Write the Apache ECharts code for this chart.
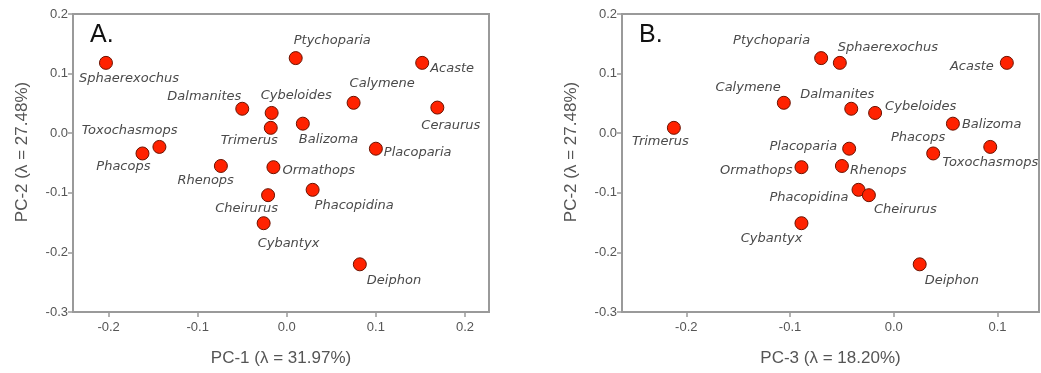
<!DOCTYPE html>
<html>
<head>
<meta charset="utf-8">
<script src="https://cdn.jsdelivr.net/npm/echarts@6/dist/echarts.min.js"></script>
<style>
html,body{margin:0;padding:0;background:#fff;}
#chart{width:1041px;height:373px;}
</style>
</head>
<body>
<div id="chart"></div>
<script>
// ---- data ----
const taxa = ["Sphaerexochus","Ptychoparia","Acaste","Calymene","Ceraurus","Dalmanites","Cybeloides","Trimerus","Balizoma","Placoparia","Toxochasmops","Phacops","Rhenops","Ormathops","Phacopidina","Cheirurus","Cybantyx","Deiphon"];
const pc1 = [-0.203, 0.010, 0.152, 0.075, 0.169, -0.050, -0.017, -0.018, 0.018, 0.100, -0.143, -0.162, -0.074, -0.015, 0.029, -0.021, -0.026, 0.082];
const pc2 = [0.118, 0.126, 0.118, 0.051, 0.043, 0.041, 0.034, 0.009, 0.016, -0.026, -0.023, -0.034, -0.055, -0.057, -0.095, -0.104, -0.151, -0.220];
const pc3 = [-0.052, -0.070, 0.109, -0.106, null, -0.041, -0.018, -0.212, 0.057, -0.043, 0.093, 0.038, -0.050, -0.089, -0.034, -0.024, -0.089, 0.025];
const yTicks = [-0.3, -0.2, -0.1, 0.0, 0.1, 0.2];
const xTicksA = [-0.2, -0.1, 0.0, 0.1, 0.2];
const xTicksB = [-0.2, -0.1, 0.0, 0.1];
const xNameA = "PC-1 (λ = 31.97%)";
const xNameB = "PC-3 (λ = 18.20%)";
const yName = "PC-2 (λ = 27.48%)";

// ---- label placement (style): [align, dx, dy] from point centre ----
const labA = {
  Sphaerexochus:["left",-27,16], Ptychoparia:["left",-2,-17], Acaste:["left",8,6], Calymene:["left",-4,-19],
  Ceraurus:["left",-16,18], Dalmanites:["right",-1,-12], Cybeloides:["left",-11,-17], Trimerus:["right",7,13],
  Balizoma:["left",-4,16], Placoparia:["left",8,4], Toxochasmops:["right",18,-16], Phacops:["right",8,13],
  Rhenops:["right",13,15], Ormathops:["left",9,3], Phacopidina:["left",2,16], Cheirurus:["right",10,13],
  Cybantyx:["left",-6,20], Deiphon:["left",7,16]
};
const labB = {
  Ptychoparia:["right",-11,-17], Sphaerexochus:["left",-2,-15], Acaste:["right",-13,4], Calymene:["right",-3,-15],
  Dalmanites:["right",23,-14], Cybeloides:["left",10,-6], Balizoma:["left",9,1], Trimerus:["right",15,14],
  Phacops:["right",12,-16], Toxochasmops:["right",48,16], Placoparia:["right",-12,-2], Ormathops:["right",-9,3],
  Rhenops:["left",8,5], Phacopidina:["right",-10,8], Cheirurus:["left",5,14], Cybantyx:["right",1,15],
  Deiphon:["left",5,16]
};

function buildData(xs, ys, lab) {
  const out = [];
  for (let i = 0; i < taxa.length; i++) {
    if (xs[i] === null || xs[i] === undefined) continue;
    const p = lab[taxa[i]] || ["left", 8, 0];
    out.push({
      name: taxa[i],
      value: [xs[i], ys[i]],
      label: { align: p[0], offset: [p[1], p[2]] }
    });
  }
  return out;
}

const gray = '#9a9a9a';
const tickColor = '#555';
function xAxis(idx, min, max, ticks, name) {
  return {
    type: 'value', gridIndex: idx, min: min, max: max,
    name: name, nameLocation: 'middle', nameGap: 38,
    nameTextStyle: { fontFamily: 'Liberation Sans, Arial', fontSize: 17, color: '#555' },
    axisLine: { show: true, onZero: false, lineStyle: { color: gray, width: 2 } },
    axisTick: { show: true, customValues: ticks, length: 5, lineStyle: { color: gray, width: 1.5 } },
    axisLabel: { customValues: ticks, margin: 9, fontFamily: 'Liberation Sans, Arial', fontSize: 13, color: tickColor,
      formatter: v => v.toFixed(1) },
    splitLine: { show: false }
  };
}
function yAxis(idx) {
  return {
    type: 'value', gridIndex: idx, min: -0.3, max: 0.2, interval: 0.1,
    name: yName, nameLocation: 'middle', nameGap: 42, nameRotate: 90,
    nameTextStyle: { fontFamily: 'Liberation Sans, Arial', fontSize: 17, color: '#555', padding: [0, 0, 0, 22] },
    axisLine: { show: true, onZero: false, lineStyle: { color: gray, width: 2 } },
    axisTick: { show: true, length: 5, lineStyle: { color: gray, width: 1.5 } },
    axisLabel: { margin: 5, fontFamily: 'Liberation Sans, Arial', fontSize: 13, color: tickColor,
      formatter: v => v.toFixed(1) },
    splitLine: { show: false }
  };
}

const seriesBase = {
  type: 'scatter', symbol: 'circle', symbolSize: 13,
  itemStyle: { color: '#ff2200', borderColor: '#6a1200', borderWidth: 1, opacity: 1 },
  label: {
    show: true, position: 'inside', verticalAlign: 'middle',
    formatter: '{b}', fontFamily: 'DejaVu Sans', fontStyle: 'italic', fontSize: 13, color: '#4a4a4a'
  },
  emphasis: { disabled: true }
};

const chart = echarts.init(document.getElementById('chart'), null, { renderer: 'canvas' });
chart.setOption({
  animation: false,
  backgroundColor: '#fff',
  title: [
    { text: 'A.', left: 85, top: 18, textStyle: { fontFamily: 'Liberation Sans, Arial', fontSize: 25, fontWeight: 'normal', color: '#111' } },
    { text: 'B.', left: 634, top: 18, textStyle: { fontFamily: 'Liberation Sans, Arial', fontSize: 25, fontWeight: 'normal', color: '#111' } }
  ],
  grid: [
    { left: 73, top: 14, width: 416, height: 298, show: true, borderColor: gray, borderWidth: 2, backgroundColor: 'transparent' },
    { left: 622, top: 14, width: 417, height: 298, show: true, borderColor: gray, borderWidth: 2, backgroundColor: 'transparent' }
  ],
  xAxis: [ xAxis(0, -0.24, 0.227, xTicksA, xNameA), xAxis(1, -0.262, 0.14, xTicksB, xNameB) ],
  yAxis: [ yAxis(0), yAxis(1) ],
  series: [
    Object.assign({}, seriesBase, { name: 'A', xAxisIndex: 0, yAxisIndex: 0, data: buildData(pc1, pc2, labA) }),
    Object.assign({}, seriesBase, { name: 'B', xAxisIndex: 1, yAxisIndex: 1, data: buildData(pc3, pc2, labB) })
  ]
});
</script>
</body>
</html>
